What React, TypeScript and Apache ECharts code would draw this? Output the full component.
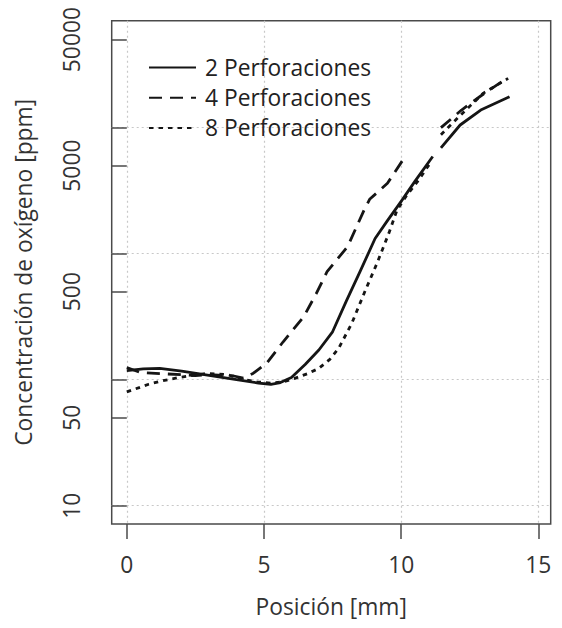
import React, { useEffect, useRef } from "react";
import * as echarts from "echarts";

// Oxygen concentration profiles along the position, three perforation counts.
// A null value breaks the curve between the two measured stretches.
const seriesNames = ["2 Perforaciones", "4 Perforaciones", "8 Perforaciones"];

const pos2 = [0, 0.6, 1.2, 2, 3, 4, 4.8, 5.25, 5.6, 6.0, 6.5, 7.0, 7.5, 8.0, 8.5, 9.05, 9.5, 10.0, 10.5, 11.15, 11.3, 11.45, 12.15, 12.9, 13.95];
const ppm2 = [118, 122, 123, 117, 108, 100, 94, 92, 95, 104, 132, 172, 240, 420, 720, 1320, 1830, 2600, 3750, 5900, null, 6900, 10500, 13800, 17600];

const pos4 = [0, 0.5, 1.5, 2.5, 3.0, 3.9, 4.25, 4.6, 5.1, 5.7, 6.45, 6.9, 7.3, 8.05, 8.65, 8.85, 9.5, 10.1, 10.8, 11.45, 12.2, 13.0, 13.9];
const ppm4 = [125, 114, 111, 108, 110, 107, 103, 112, 135, 200, 316, 480, 720, 1140, 2220, 2700, 3620, 5700, null, 10000, 13800, 18500, 25000];

const pos8 = [0, 0.8, 1.2, 2, 2.9, 3.65, 4.3, 4.75, 5.25, 5.7, 6.1, 6.6, 7.0, 7.4, 7.72, 8.2, 8.7, 9.12, 9.55, 9.85, 10.2, 10.64, 11.1, 11.3, 11.45, 12.2, 13.0, 13.9];
const ppm8 = [80, 92, 97, 105, 112, 110, 100, 96, 94, 96, 102, 112, 123, 145, 177, 280, 515, 840, 1450, 2220, 2900, 3850, 5400, null, 8800, 12800, 18800, 24600];

const xTicks = [0, 5, 10, 15];
const yLabelTicks = [10, 50, 500, 5000, 50000];
const yMinorTicks = [10, 50, 100, 500, 1000, 5000, 10000, 50000];
const yGridTicks = [10, 100, 1000, 10000];

const FONT = "'Open Sans', 'DejaVu Sans', sans-serif";
const FONT_SIZE = 22.8;
const TEXT = "#333333";
const AXIS = "#4a4a4a";
const GRID = "#c8c8c8";
const INK = "#151515";

const toPairs = (xs: number[], ys: (number | null)[]) =>
  xs.map((x, i) => [x, ys[i] === null ? "-" : ys[i]]);

export default function App() {
  const ref = useRef<HTMLDivElement>(null);

  useEffect(() => {
    if (!ref.current) return;
    const chart = echarts.init(ref.current, undefined, { renderer: "svg" });

    const lineSeries = (name: string, data: any[], type: any) => ({
      name,
      type: "line",
      data,
      symbol: "none",
      connectNulls: false,
      lineStyle: { color: INK, width: 2.8, type, cap: "butt", join: "round" },
      itemStyle: { color: INK },
      z: 5,
    });

    chart.setOption({
      animation: false,
      backgroundColor: "#ffffff",
      textStyle: { fontFamily: FONT },
      grid: {
        show: true,
        left: 111.7,
        top: 20.7,
        right: 11.3,
        bottom: 104,
        borderColor: AXIS,
        borderWidth: 1.5,
        backgroundColor: "transparent",
      },
      legend: {
        orient: "vertical",
        left: 143,
        top: 51,
        itemWidth: 47,
        itemHeight: 14,
        itemGap: 7.2,
        data: seriesNames,
        itemStyle: { opacity: 0 },
        textStyle: {
          fontFamily: FONT,
          fontSize: FONT_SIZE,
          lineHeight: 22.4,
          color: "#222222",
          padding: [0, 0, 0, 4],
        },
      },
      xAxis: {
        type: "value",
        min: -0.55,
        max: 15.45,
        name: "Posición [mm]",
        nameLocation: "middle",
        nameGap: 71,
        nameTextStyle: { fontFamily: FONT, fontSize: FONT_SIZE, color: TEXT },
        axisLine: { show: false },
        axisTick: {
          show: true,
          customValues: xTicks,
          length: 15,
          lineStyle: { color: AXIS, width: 1.5 },
        },
        axisLabel: {
          customValues: xTicks,
          fontFamily: FONT,
          fontSize: FONT_SIZE,
          color: TEXT,
          margin: 29,
          formatter: (v: number) => String(v),
        },
        splitLine: {
          show: true,
          lineStyle: { color: GRID, type: [2, 3], width: 1.2 },
        },
      },
      yAxis: [
        {
          type: "log",
          logBase: 10,
          min: 7.16,
          max: 70600,
          position: "left",
          name: "Concentración de oxígeno [ppm]",
          nameLocation: "middle",
          nameGap: 77,
          nameRotate: 90,
          nameTextStyle: { fontFamily: FONT, fontSize: FONT_SIZE, color: TEXT },
          axisLine: { show: false },
          axisTick: {
            show: true,
            customValues: yMinorTicks,
            length: 15,
            lineStyle: { color: AXIS, width: 1.5 },
          },
          axisLabel: {
            customValues: yLabelTicks,
            rotate: 90,
            fontFamily: FONT,
            fontSize: FONT_SIZE,
            color: TEXT,
            margin: 29,
            formatter: (v: number) => String(Math.round(v)),
          },
          splitLine: { show: false },
        },
        {
          type: "log",
          logBase: 10,
          min: 7.16,
          max: 70600,
          position: "left",
          axisLine: { show: false },
          axisTick: { show: false, customValues: yGridTicks },
          axisLabel: { show: false },
          splitLine: {
            show: true,
            lineStyle: { color: GRID, type: [2, 3], width: 1.2 },
          },
        },
      ],
      series: [
        lineSeries(seriesNames[0], toPairs(pos2, ppm2), "solid"),
        lineSeries(seriesNames[1], toPairs(pos4, ppm4), [13, 8]),
        lineSeries(seriesNames[2], toPairs(pos8, ppm8), [4.5, 5]),
      ],
    });

    return () => chart.dispose();
  }, []);

  return (
    <div
      ref={ref}
      style={{ position: "fixed", left: 0, top: 0, width: 562, height: 628 }}
    />
  );
}
